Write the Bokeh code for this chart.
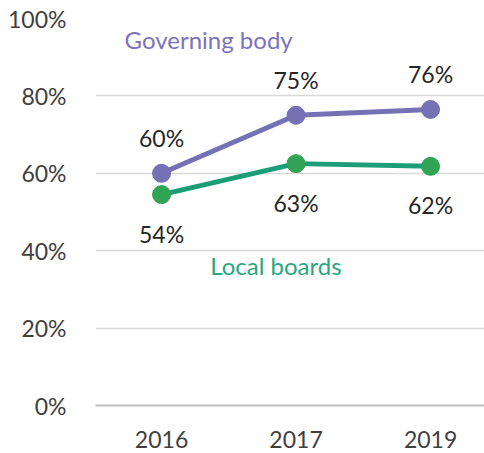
from bokeh.plotting import figure
from bokeh.models import FixedTicker, Range1d, Label, ColumnDataSource
from bokeh.core.properties import value
from bokeh.embed import file_html
from bokeh.resources import INLINE

years = ["2016", "2017", "2019"]
governing = [60, 75, 76.5]
local = [54.5, 62.5, 61.8]
governing_labels = ["60%", "75%", "76%"]
local_labels = ["54%", "63%", "62%"]
y_ticks = [0, 20, 40, 60, 80, 100]
y_tick_labels = ["0%", "20%", "40%", "60%", "80%", "100%"]

xs = list(range(len(years)))
FONT = "Lato"
PURPLE = "#7670b4"
GREEN_LINE = "#1b9e77"
GREEN_MARK = "#31a354"

src_g = ColumnDataSource(dict(x=xs, y=governing, t=governing_labels))
src_l = ColumnDataSource(dict(x=xs, y=local, t=local_labels))

p = figure(width=484, height=453, output_backend="svg", toolbar_location=None,
           x_range=Range1d(-0.491, 2.401), y_range=Range1d(0, 100),
           min_border_left=95, min_border_right=0, min_border_top=18, min_border_bottom=48)
p.outline_line_color = None
p.background_fill_color = "white"
p.border_fill_color = "white"

p.xgrid.grid_line_color = None
p.ygrid.grid_line_color = "#d9d9d9"
p.ygrid.grid_line_width = 1.5

p.yaxis.ticker = FixedTicker(ticks=y_ticks)
p.yaxis.major_label_overrides = {t: l for t, l in zip(y_ticks, y_tick_labels)}
p.yaxis.axis_line_color = None
p.yaxis.major_tick_line_color = None
p.yaxis.minor_tick_line_color = None
p.yaxis.major_label_standoff = 23
p.yaxis.major_label_text_font = FONT
p.yaxis.major_label_text_font_size = "23px"
p.yaxis.major_label_text_color = "#404040"

p.xaxis.ticker = FixedTicker(ticks=xs)
p.xaxis.major_label_overrides = {x: y for x, y in zip(xs, years)}
p.xaxis.axis_line_color = "#bfbfbf"
p.xaxis.axis_line_width = 2
p.xaxis.major_tick_line_color = None
p.xaxis.minor_tick_line_color = None
p.xaxis.major_label_standoff = 19
p.xaxis.major_label_text_font = FONT
p.xaxis.major_label_text_font_size = "23px"
p.xaxis.major_label_text_color = "#404040"

p.line("x", "y", source=src_g, line_color=PURPLE, line_width=5)
p.scatter("x", "y", source=src_g, size=18, fill_color=PURPLE, line_color=PURPLE)
p.line("x", "y", source=src_l, line_color=GREEN_LINE, line_width=5)
p.scatter("x", "y", source=src_l, size=18, fill_color=GREEN_MARK, line_color=GREEN_MARK)

p.text("x", "y", text="t", source=src_g, y_offset=-35, text_align="center",
       text_baseline="middle", text_font=value(FONT), text_font_size="23px",
       text_color="#262626")
p.text("x", "y", text="t", source=src_l, y_offset=39, text_align="center",
       text_baseline="middle", text_font=value(FONT), text_font_size="23px",
       text_color="#262626")

p.add_layout(Label(x=0.35, y=94.7, text="Governing body", text_align="center",
                   text_baseline="middle", text_font=FONT, text_font_size="24px",
                   text_color="#7b73bb"))
p.add_layout(Label(x=0.85, y=36.2, text="Local boards", text_align="center",
                   text_baseline="middle", text_font=FONT, text_font_size="24px",
                   text_color="#2aa77f"))

open("out.html", "w").write(file_html(p, INLINE))
